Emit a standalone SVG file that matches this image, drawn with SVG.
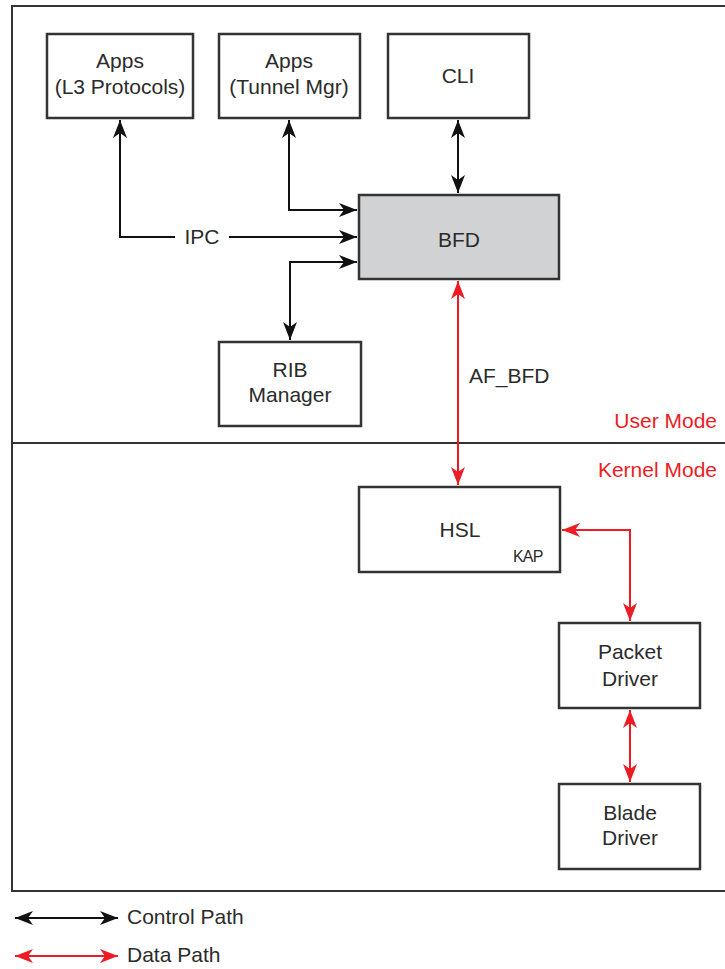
<svg xmlns="http://www.w3.org/2000/svg" width="725" height="969" viewBox="0 0 725 969">
<style>
.box{fill:#fff;stroke:#333;stroke-width:2.5}
.gray{fill:#d1d2d4}
.t{font-family:"Liberation Sans",Arial,sans-serif;font-size:21px;fill:#2b2b2b;text-anchor:middle}
.lbl{font-family:"Liberation Sans",Arial,sans-serif;font-size:21px;fill:#2b2b2b}
.red{fill:#ed1c24}
.k{fill:none;stroke:#111;stroke-width:2}
.r{fill:none;stroke:#ed1c24;stroke-width:2}
</style>
<defs>
<marker id="ak" viewBox="0 0 18 14" refX="18" refY="7" markerWidth="18" markerHeight="14" markerUnits="userSpaceOnUse" orient="auto-start-reverse"><path d="M0,0 L18,7 L0,14 L5,7 z" fill="#111"/></marker>
<marker id="ar" viewBox="0 0 18 14" refX="18" refY="7" markerWidth="18" markerHeight="14" markerUnits="userSpaceOnUse" orient="auto-start-reverse"><path d="M0,0 L18,7 L0,14 L5,7 z" fill="#ed1c24"/></marker>
</defs>
<g id="frame">
<rect x="12" y="6" width="730" height="885" fill="none" stroke="#333" stroke-width="2"/>
<line x1="12" y1="443" x2="725" y2="443" stroke="#333" stroke-width="2"/>
<text class="lbl red" x="717" y="428" text-anchor="end">User Mode</text>
<text class="lbl red" x="717" y="477" text-anchor="end">Kernel Mode</text>
</g>
<g id="apps-l3"><rect class="box" x="47" y="34" width="146" height="84"/><text class="t" x="120" y="68">Apps</text><text class="t" x="120" y="94">(L3 Protocols)</text></g>
<g id="apps-tunnel"><rect class="box" x="219" y="34" width="141" height="84"/><text class="t" x="289" y="68">Apps</text><text class="t" x="289" y="94">(Tunnel Mgr)</text></g>
<g id="cli"><rect class="box" x="388" y="34" width="141" height="84"/><text class="t" x="458" y="83">CLI</text></g>
<g id="bfd"><rect class="box gray" x="359" y="195" width="200" height="84"/><text class="t" x="459" y="247">BFD</text></g>
<g id="rib"><rect class="box" x="219" y="342" width="142" height="84"/><text class="t" x="290" y="377">RIB</text><text class="t" x="290" y="402">Manager</text></g>
<g id="hsl"><rect class="box" x="359" y="487" width="201" height="85"/><text class="t" x="460" y="537">HSL</text><text class="lbl" x="513" y="562" style="font-size:16px;letter-spacing:-0.8px">KAP</text></g>
<g id="packet"><rect class="box" x="559" y="623" width="141" height="85"/><text class="t" x="630" y="659">Packet</text><text class="t" x="630" y="686">Driver</text></g>
<g id="blade"><rect class="box" x="559" y="784" width="141" height="85"/><text class="t" x="630" y="820">Blade</text><text class="t" x="630" y="845">Driver</text></g>
<g id="connectors">
<path class="k" d="M120,120 V237 H175" marker-start="url(#ak)"/>
<path class="k" d="M229,237 H357" marker-end="url(#ak)"/>
<text class="lbl" x="202" y="244" text-anchor="middle">IPC</text>
<path class="k" d="M289,120 V210 H357" marker-start="url(#ak)" marker-end="url(#ak)"/>
<path class="k" d="M357,262 H290 V340" marker-start="url(#ak)" marker-end="url(#ak)"/>
<path class="k" d="M458,120 V193" marker-start="url(#ak)" marker-end="url(#ak)"/>
<path class="r" d="M458,281 V485" marker-start="url(#ar)" marker-end="url(#ar)"/>
<text class="lbl" x="469" y="383">AF_BFD</text>
<path class="r" d="M562,530 H630 V621" marker-start="url(#ar)" marker-end="url(#ar)"/>
<path class="r" d="M630,710 V782" marker-start="url(#ar)" marker-end="url(#ar)"/>
</g>
<g id="legend">
<path class="k" d="M15,918 H118" marker-start="url(#ak)" marker-end="url(#ak)"/>
<text class="lbl" x="127" y="924">Control Path</text>
<path class="r" d="M15,956 H118" marker-start="url(#ar)" marker-end="url(#ar)"/>
<text class="lbl" x="127" y="962">Data Path</text>
</g>
</svg>
